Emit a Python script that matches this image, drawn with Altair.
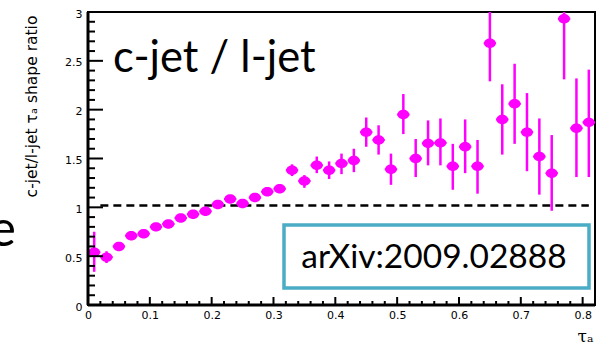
import altair as alt
import pandas as pd

# c-jet / l-jet tau_a shape ratio, one point per 0.02-wide bin
tau = [0.01, 0.03, 0.05, 0.07, 0.09, 0.11, 0.13, 0.15, 0.17, 0.19,
       0.21, 0.23, 0.25, 0.27, 0.29, 0.31, 0.33, 0.35, 0.37, 0.39,
       0.41, 0.43, 0.45, 0.47, 0.49, 0.51, 0.53, 0.55, 0.57, 0.59,
       0.61, 0.63, 0.65, 0.67, 0.69, 0.71, 0.73, 0.75, 0.77, 0.79, 0.81]
ratio = [0.54, 0.49, 0.60, 0.71, 0.73, 0.80, 0.83, 0.89, 0.93, 0.96,
         1.03, 1.085, 1.04, 1.10, 1.16, 1.19, 1.38, 1.27, 1.43, 1.38,
         1.45, 1.48, 1.77, 1.69, 1.39, 1.95, 1.50, 1.655, 1.66, 1.42,
         1.62, 1.42, 2.68, 1.90, 2.06, 1.77, 1.52, 1.35, 2.93, 1.81, 1.87]
err_lo = [0.34, 0.43, 0.575, 0.69, 0.71, 0.78, 0.81, 0.87, 0.91, 0.94,
          1.01, 1.06, 1.015, 1.075, 1.13, 1.16, 1.32, 1.20, 1.35, 1.29,
          1.34, 1.36, 1.62, 1.54, 1.23, 1.75, 1.31, 1.43, 1.43, 1.18,
          1.35, 1.14, 2.29, 1.54, 1.65, 1.37, 1.13, 0.965, 2.31, 1.31, 1.31]
err_hi = [0.75, 0.55, 0.625, 0.73, 0.75, 0.82, 0.85, 0.91, 0.95, 0.98,
          1.05, 1.11, 1.065, 1.125, 1.19, 1.22, 1.44, 1.33, 1.52, 1.47,
          1.55, 1.60, 1.92, 1.84, 1.55, 2.16, 1.70, 1.89, 1.91, 1.65,
          1.90, 1.69, 3.08, 2.26, 2.47, 2.17, 1.91, 1.74, 3.50, 2.32, 2.41]
bin_half = 0.01

x_major = [0, 0.1, 0.2, 0.3, 0.4, 0.5, 0.6, 0.7, 0.8]
x_minor = [0.02, 0.04, 0.06, 0.08, 0.12, 0.14, 0.16, 0.18, 0.22, 0.24,
           0.26, 0.28, 0.32, 0.34, 0.36, 0.38, 0.42, 0.44, 0.46, 0.48,
           0.52, 0.54, 0.56, 0.58, 0.62, 0.64, 0.66, 0.68, 0.72, 0.74,
           0.76, 0.78, 0.82]
y_major = [0, 0.5, 1, 1.5, 2, 2.5, 3]
y_minor = [0.1, 0.2, 0.3, 0.4, 0.6, 0.7, 0.8, 0.9, 1.1, 1.2, 1.3, 1.4,
           1.6, 1.7, 1.8, 1.9, 2.1, 2.2, 2.3, 2.4, 2.6, 2.7, 2.8, 2.9]
unity_line = 1.02

W, H = 507, 293
MAGENTA = "#ff00ff"
TEAL = "#4bacc6"
ELLIPSE = "M-1,0 A1,0.8 0 1,0 1,0 A1,0.8 0 1,0 -1,0 Z"

df = pd.DataFrame({
    "tau": tau, "ratio": ratio, "lo": err_lo, "hi": err_hi,
    "xlo": [t - bin_half for t in tau], "xhi": [t + bin_half for t in tau],
})

x_scale = alt.Scale(domain=[0, 0.82], nice=False, zero=False)
y_scale = alt.Scale(domain=[0, 3], nice=False, zero=False)

x_axis = alt.Axis(values=x_major, format="~g", ticks=False, domain=False, grid=False,
                  labelFont="DejaVu Sans", labelFontSize=11, labelColor="black",
                  labelPadding=4, labelFlush=False, labelOverlap=False, labelBound=False,
                  title="τₐ", titleFont="DejaVu Serif", titleFontSize=17,
                  titleFontWeight="normal", titleColor="black", titleAnchor="end",
                  titleAlign="right", titleX=W - 2, titleY=36, titleBaseline="alphabetic")
y_axis = alt.Axis(values=y_major, format="~g", ticks=False, domain=False, grid=False,
                  labelFont="DejaVu Sans", labelFontSize=11, labelColor="black",
                  labelPadding=6, labelOffset=2, labelFlush=False, labelOverlap=False,
                  labelBound=False,
                  title="c-jet/l-jet τₐ shape ratio", titleFont="DejaVu Sans",
                  titleFontSize=15.5, titleFontWeight="normal", titleColor="black",
                  titleAngle=-90, titleAlign="center", titleBaseline="middle",
                  titleX=-57, titleY=94)

base = alt.Chart(df)

vbars = base.mark_rule(color=MAGENTA, strokeWidth=2.5, clip=True).encode(
    x=alt.X("tau:Q", scale=x_scale, axis=x_axis),
    y=alt.Y("lo:Q", scale=y_scale, axis=y_axis),
    y2="hi:Q",
)
hbars = base.mark_rule(color=MAGENTA, strokeWidth=2, clip=True).encode(
    x="xlo:Q", x2="xhi:Q", y="ratio:Q"
)
points = base.mark_point(shape=ELLIPSE, filled=True, size=140, color=MAGENTA,
                         opacity=1).encode(x="tau:Q", y="ratio:Q")

unity = alt.Chart(pd.DataFrame({"x0": [0.02], "x1": [0.81], "y": [unity_line]})).mark_rule(
    color="black", strokeWidth=2.5, strokeDash=[8, 5]
).encode(x="x0:Q", x2="x1:Q", y="y:Q")

# inward ticks, ROOT style
ytick_major = alt.Chart(pd.DataFrame({"v": y_major})).mark_rule(color="black", strokeWidth=2).encode(
    y="v:Q", x=alt.value(0), x2=alt.value(15))
ytick_minor = alt.Chart(pd.DataFrame({"v": y_minor})).mark_rule(color="black", strokeWidth=2).encode(
    y="v:Q", x=alt.value(0), x2=alt.value(7))
xtick_major = alt.Chart(pd.DataFrame({"v": x_major})).mark_rule(color="black", strokeWidth=2).encode(
    x="v:Q", y=alt.value(H), y2=alt.value(H - 8))
xtick_minor = alt.Chart(pd.DataFrame({"v": x_minor})).mark_rule(color="black", strokeWidth=2).encode(
    x="v:Q", y=alt.value(H), y2=alt.value(H - 4))

frame_left = alt.Chart(pd.DataFrame({"v": [0]})).mark_rule(color="black", strokeWidth=3).encode(
    x=alt.value(0), y=alt.value(0), y2=alt.value(H))
frame_bottom = alt.Chart(pd.DataFrame({"v": [0]})).mark_rule(color="black", strokeWidth=3).encode(
    y=alt.value(H), x=alt.value(0), x2=alt.value(W))

headline = alt.Chart(pd.DataFrame({"t": ["c-jet / l-jet"]})).mark_text(
    font="Lato", fontSize=43.5, color="black", align="left", baseline="alphabetic"
).encode(text="t:N", x=alt.value(25), y=alt.value(60))

ref_box = alt.Chart(pd.DataFrame({"v": [0]})).mark_rect(
    fill="white", stroke=TEAL, strokeWidth=3.5
).encode(x=alt.value(196), x2=alt.value(501), y=alt.value(213), y2=alt.value(276))
ref_text = alt.Chart(pd.DataFrame({"t": ["arXiv:2009.02888"]})).mark_text(
    font="Lato", fontSize=33.5, color="black", align="center", baseline="alphabetic"
).encode(text="t:N", x=alt.value(346), y=alt.value(256))

# edge of a neighbouring slide letter
side_letter = alt.Chart(pd.DataFrame({"t": ["e"]})).mark_text(
    font="Lato", fontSize=50, color="black", align="right", baseline="alphabetic"
).encode(text="t:N", x=alt.value(-72), y=alt.value(234))

chart = alt.layer(
    unity, ref_box, ref_text, vbars, hbars, points,
    ytick_major, ytick_minor, xtick_major, xtick_minor,
    frame_left, frame_bottom, headline, side_letter,
).properties(
    width=W, height=H,
    autosize=alt.AutoSizeParams(type="none"),
    padding={"left": 88, "top": 12, "right": 10, "bottom": 39},
    background="white",
).configure_view(stroke="black", strokeWidth=2)

chart.save("out.html", embed_options={"renderer": "svg", "actions": False})
